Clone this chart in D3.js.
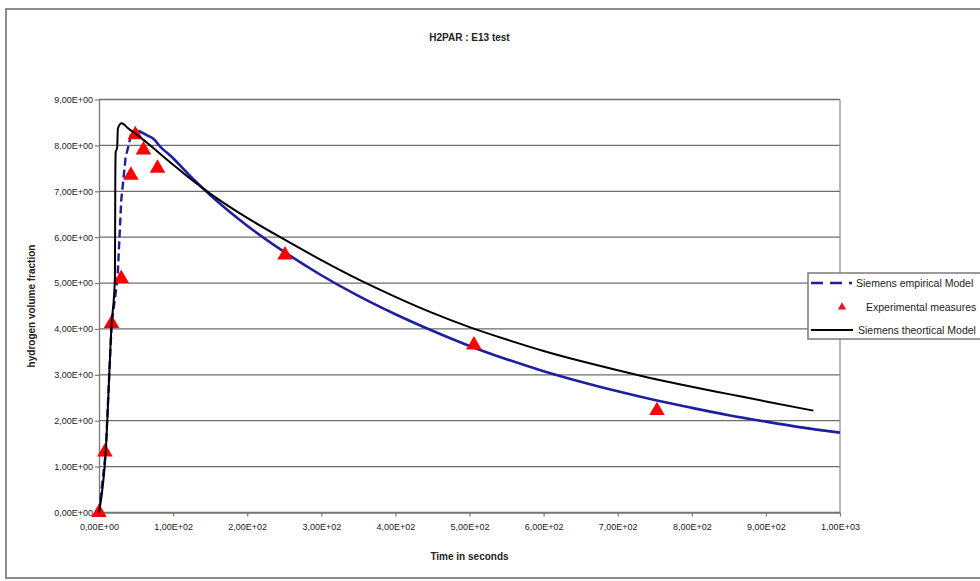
<!DOCTYPE html>
<html>
<head>
<meta charset="utf-8">
<script src="https://cdn.jsdelivr.net/npm/d3@7"></script>
<style>
  body { margin: 0; background: #fff; }
  svg text { font-family: "Liberation Sans", Arial, sans-serif; fill: #222; }
</style>
</head>
<body>
<svg id="chart" width="980" height="581"></svg>
<script>
// readings (time in s, hydrogen volume fraction)
var empiricalTime  = [0, 9, 17, 25, 30, 36, 40, 44, 53, 65, 75, 80, 100, 125, 150, 175, 200, 250, 300, 350, 400, 450, 500, 550, 600, 650, 700, 750, 800, 850, 900, 950, 1000];
var empiricalValue = [0, 1.3, 4.1, 5.1, 6.8, 7.75, 8.0, 8.3, 8.32, 8.22, 8.12, 8.02, 7.72, 7.3, 6.92, 6.57, 6.25, 5.68, 5.17, 4.72, 4.32, 3.96, 3.63, 3.34, 3.08, 2.85, 2.64, 2.45, 2.28, 2.12, 1.98, 1.85, 1.74];

var measureTime  = [0, 8, 17, 30, 43, 49, 60, 79, 251, 506, 753];
var measureValue = [0, 1.32, 4.12, 5.10, 7.35, 8.23, 7.90, 7.50, 5.61, 3.65, 2.22];

var theoryTime  = [0, 9, 17, 21.5, 22, 22.5, 24.5, 25.5, 30.5, 39.5, 60, 80, 100, 125, 150, 200, 250, 300, 350, 400, 450, 500, 550, 600, 650, 700, 750, 800, 850, 900, 964];
var theoryValue = [0, 1.3, 4.1, 5.1, 7.25, 7.85, 7.95, 8.37, 8.48, 8.37, 8.12, 7.85, 7.58, 7.25, 6.95, 6.42, 5.95, 5.5, 5.08, 4.7, 4.35, 4.04, 3.77, 3.52, 3.3, 3.1, 2.91, 2.74, 2.58, 2.42, 2.22];

var xTicks = [0, 100, 200, 300, 400, 500, 600, 700, 800, 900, 1000];
var yTicks = [0, 1, 2, 3, 4, 5, 6, 7, 8, 9];

var seriesNames = ["Siemens empirical Model", "Experimental measures", "Siemens theortical Model"];

var empirical = empiricalTime.map(function(t, i) { return { t: t, v: empiricalValue[i] }; });
var measures = measureTime.map(function(t, i) { return { t: t, v: measureValue[i] }; });
var theory = theoryTime.map(function(t, i) { return { t: t, v: theoryValue[i] }; });

function sci(v) {
    if (v === 0) return "0,00E+00";
    var e = Math.floor(Math.log10(v));
    var m = v / Math.pow(10, e);
    return m.toFixed(2).replace(".", ",") + "E+" + (e < 10 ? "0" + e : e);
}

var svg = d3.select("#chart");
var plotLeft = 99, plotRight = 840, plotTop = 99.5, plotBottom = 512.5;

// outer chart frame
svg.append("rect")
    .attr("x", 6).attr("y", 9)
    .attr("width", 990).attr("height", 569)
    .attr("fill", "#fff")
    .attr("stroke", "#8c8c8c")
    .attr("stroke-width", 2);

var x = d3.scaleLinear().domain([0, 1000]).range([plotLeft, plotRight]);
var y = d3.scaleLinear().domain([0, 9]).range([plotBottom, plotTop]);

// gridlines
svg.append("g")
    .selectAll("line")
    .data(yTicks)
    .enter().append("line")
    .attr("x1", plotLeft).attr("x2", plotRight)
    .attr("y1", function(d) { return y(d); })
    .attr("y2", function(d) { return y(d); })
    .attr("stroke", "#6e6e6e")
    .attr("stroke-width", 1.3);

// right border of plot area
svg.append("line")
    .attr("x1", plotRight).attr("x2", plotRight)
    .attr("y1", plotTop).attr("y2", plotBottom)
    .attr("stroke", "#8a8a8a").attr("stroke-width", 1.2);

// axes
var xAxis = svg.append("g")
    .attr("transform", "translate(0," + plotBottom + ")")
    .call(d3.axisBottom(x).tickValues(xTicks).tickFormat(sci).tickSize(4).tickSizeOuter(0));
var yAxis = svg.append("g")
    .attr("transform", "translate(" + plotLeft + ",0)")
    .call(d3.axisLeft(y).tickValues(yTicks).tickFormat(sci).tickSize(4).tickSizeOuter(0));

[xAxis, yAxis].forEach(function(a) {
    a.select(".domain").attr("stroke", "#7a7a7a").attr("stroke-width", 1.3);
    a.selectAll(".tick line").attr("stroke", "#7a7a7a").attr("stroke-width", 1.2);
    a.selectAll(".tick text")
        .style("font-size", "9px")
        .attr("fill", "#333");
});
xAxis.selectAll(".tick text").attr("y", 11);
yAxis.selectAll(".tick text").attr("x", -6);

// titles
svg.append("text")
    .attr("x", (plotLeft + plotRight) / 2).attr("y", 41)
    .attr("text-anchor", "middle")
    .style("font-size", "10px").style("font-weight", "bold")
    .text("H2PAR : E13 test");

svg.append("text")
    .attr("x", (plotLeft + plotRight) / 2).attr("y", 560)
    .attr("text-anchor", "middle")
    .style("font-size", "10px").style("font-weight", "bold")
    .text("Time in seconds");

svg.append("text")
    .attr("transform", "translate(35," + ((plotTop + plotBottom) / 2) + ") rotate(-90)")
    .attr("text-anchor", "middle")
    .style("font-size", "10px").style("font-weight", "bold")
    .text("hydrogen volume fraction");

var line = d3.line()
    .x(function(d) { return x(d.t); })
    .y(function(d) { return y(d.v); });

var blue = "#1f1f9e";

// empirical model: dashed while rising, the dense tail reads as solid
var peakIndex = d3.maxIndex(empirical, function(d) { return d.v; });
svg.append("path")
    .datum(empirical.slice(0, peakIndex + 1))
    .attr("d", line.curve(d3.curveLinear))
    .attr("fill", "none")
    .attr("stroke", blue)
    .attr("stroke-width", 2.4)
    .attr("stroke-dasharray", "8,4");
svg.append("path")
    .datum(empirical.slice(peakIndex))
    .attr("d", line.curve(d3.curveMonotoneX))
    .attr("fill", "none")
    .attr("stroke", blue)
    .attr("stroke-width", 2.6);

// experimental measures
var tri = d3.symbol().type(d3.symbolTriangle).size(105);
svg.append("g")
    .selectAll("path")
    .data(measures)
    .enter().append("path")
    .attr("d", tri)
    .attr("transform", function(d) { return "translate(" + x(d.t) + "," + y(d.v) + ")"; })
    .attr("fill", "#ff0000");

// theoretical model
svg.append("path")
    .datum(theory)
    .attr("d", line.curve(d3.curveMonotoneX))
    .attr("fill", "none")
    .attr("stroke", "#000")
    .attr("stroke-width", 2);

// legend
var lg = svg.append("g").attr("transform", "translate(808,273)");
lg.append("rect")
    .attr("width", 200).attr("height", 66)
    .attr("fill", "#fff")
    .attr("stroke", "#7a7a7a").attr("stroke-width", 1.5);

var rows = [10, 34, 57];
lg.append("line").attr("x1", 3).attr("x2", 44).attr("y1", rows[0]).attr("y2", rows[0])
    .attr("stroke", blue).attr("stroke-width", 2.4).attr("stroke-dasharray", "12,7");
lg.append("path").attr("d", d3.symbol().type(d3.symbolTriangle).size(30))
    .attr("transform", "translate(34," + rows[1] + ")").attr("fill", "#e8102a");
lg.append("line").attr("x1", 3).attr("x2", 45).attr("y1", rows[2]).attr("y2", rows[2])
    .attr("stroke", "#000").attr("stroke-width", 2);

lg.selectAll("text.lbl")
    .data(seriesNames)
    .enter().append("text")
    .attr("class", "lbl")
    .attr("x", function(d, i) { return i === 1 ? 58 : (i === 0 ? 48 : 50); })
    .attr("y", function(d, i) { return rows[i] + 3.5; })
    .style("font-size", "10.5px")
    .attr("fill", "#333")
    .text(function(d) { return d; });
</script>
</body>
</html>
